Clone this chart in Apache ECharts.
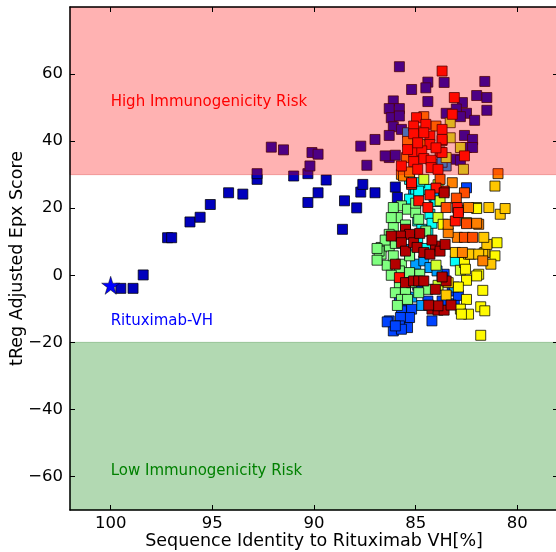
<!DOCTYPE html>
<html><head><meta charset="utf-8">
<script src="https://cdn.jsdelivr.net/npm/echarts@6/dist/echarts.min.js"></script>
<style>html,body{margin:0;padding:0;background:#fff}#c{width:556px;height:552px}</style>
</head><body><div id="c"></div>
<script>
// ---- data ----
const xTicks = [100, 95, 90, 85, 80];
const yTicks = [-60, -40, -20, 0, 20, 40, 60];
const highRisk = [30, 80];
const lowRisk = [-70, -20];
const rituximab = [[100, -3]];
const annotations = [
  ['High Immunogenicity Risk', 100, 51.5],
  ['Rituximab-VH', 100, -13.6],
  ['Low Immunogenicity Risk', 100, -58.5]
];
// colour value (jet colormap position) of each group
const navyVal = 0.06, blueVal = 0.19, lightBlueVal = 0.28, cyanVal = 0.38, greenVal = 0.5,
      yellowGreenVal = 0.58, yellowVal = 0.63, goldVal = 0.68, orangeVal = 0.75,
      orangeRedVal = 0.8, redVal = 0.86, darkRedVal = 0.95;

const navyPts = [[99.5,-3.9],[98.9,-3.9],[98.4,0.1],[97.2,11.2],[97.0,11.2],[96.1,15.9],[95.6,17.3],[95.1,21.1],[94.2,24.6],[93.5,24.2],[92.8,28.6],[92.8,30.3],[92.1,38.2],[91.5,37.4],[91.0,29.6],[90.3,30.3],[90.3,21.7],[90.2,32.6],[90.1,36.6],[89.8,36.1],[89.8,24.6],[89.4,28.4],[88.6,13.7],[88.5,22.2],[87.9,20.1],[87.7,38.5],[87.7,24.8],[87.6,27.1],[87.4,32.8],[87.0,24.6],[86.0,26.3],[85.9,23.2],
[85.8,62.2],[84.4,57.6],[84.5,55.9],[83.6,57.5],[81.6,57.8],[85.2,55.4],[84.4,51.8],[82.0,53.6],[81.5,53.0],[81.5,49.2],[82.7,51.5],[86.1,52.0],[86.3,49.7],[85.8,49.7],[82.5,48.3],[82.1,46.2],[83.0,49.6],[82.8,47.3],[83.5,48.3],[86.2,47.0],[86.1,44.3],[86.3,41.7],[87.0,40.5],[86.3,35.1],[86.0,35.8],[82.6,41.7],[82.2,40.5],[82.5,38.1],[82.2,38.1],[83.0,34.6],[82.8,34.3],[85.7,43.5],[85.8,47.5],[86.5,35.6]];
const bluePts = [[85.8,-7.7],[85.5,-9.2],[85.2,-10.1],[85.7,-10.6],[85.3,-12.6],[85.75,-12.6],[85.4,-15.6],[85.8,-15.1],[86.3,-13.6],[86.1,-16.6],[85.7,-16.1],[84.2,-13.6],[86.4,-13.9],[86.0,-15.1],[82.5,26.1],[83.6,0.3],[83.2,-4.7],[84.4,-7.7],[83.7,-7.7],[85.5,-4.0],[84.9,-3.0],[83.1,-8.5],[82.9,-6.0]];
const lightBluePts = [[85.5,7.7],[85.0,3.3],[84.6,4.3],[84.3,2.3],[83.95,1.3],[83.7,-0.7],[85.2,-6.5],[84.7,-9.0],[83.1,-3.5],[85.4,42.5],[83.9,33.1],[83.5,32.6],[83.7,33.7],[85.1,24.0],[84.1,23.5]];
const cyanPts = [[85.0,25.1],[84.4,25.6],[84.8,27.6],[85.3,22.7],[84.9,16.2],[84.7,13.7],[84.3,18.2],[83.05,4.3],[84.0,22.0],[84.4,13.2],[84.9,10.7],[85.3,6.3],[85.3,28.6],[84.85,25.1],[84.5,8.0],[84.2,15.5]];
const greenPts = [[85.7,20.7],[86.1,20.2],[85.4,19.7],[85.9,17.2],[86.2,17.2],[85.0,18.7],[84.85,16.7],[84.5,13.2],[86.1,14.2],[86.3,12.2],[86.7,8.3],[86.7,6.3],[86.3,8.7],[86.4,3.0],[86.1,5.8],[85.7,3.3],[85.3,5.8],[85.8,1.3],[85.3,0.8],[85.8,-3.2],[85.5,-4.7],[86.0,-5.2],[85.7,-7.2],[85.4,-7.2],[85.2,-2.2],[84.8,0.3],[84.4,-4.2],[84.85,-5.2],[86.8,7.2],[86.5,10.5],[86.0,9.5],[85.0,21.5],[85.5,15.0],[86.2,0.0],[86.9,4.5],[86.9,8.0],[85.9,-9.0]];
const yellowGreenPts = [[83.3,45.5],[83.3,41.0],[83.5,35.1],[82.8,38.1],[82.65,31.6],[84.6,28.6],[83.9,27.0],[83.8,22.2],[83.9,17.2],[84.0,3.0],[83.9,-3.0],[82.8,1.5]];
const yellowPts = [[82.0,20.2],[81.0,9.7],[81.1,5.8],[81.9,0.3],[82.5,-1.5],[81.7,-4.5],[82.5,-7.2],[81.8,-9.4],[81.6,-10.6],[82.8,-10.1],[82.4,-11.6],[82.75,-11.6],[81.8,-17.9],[82.6,3.8],[82.55,1.8],[82.0,-0.2],[82.5,15.7],[83.65,15.2],[82.9,-3.5],[82.0,19.9]];
const goldPts = [[81.1,26.6],[81.4,20.2],[80.84,18.2],[80.6,19.9],[81.6,6.8],[81.3,3.3],[83.05,6.8],[82.4,6.3],[82.3,6.3],[81.7,6.3],[81.5,9.2],[81.65,11.3],[83.5,-5.9],[83.4,-2.2],[81.9,6.3]];
const orangePts = [[80.95,30.3],[82.4,20.2],[81.9,15.2],[82.95,11.3],[82.9,19.4],[83.4,12.7],[83.4,15.2],[82.7,6.8],[81.7,4.3],[83.2,27.6],[82.0,15.5],[85.7,30.1],[85.6,29.6],[85.4,39.9],[85.45,35.1],[84.7,39.0],[84.6,47.3],[84.0,44.5],[84.9,43.0],[85.3,30.8]];
const orangeRedPts = [[82.6,24.6],[83.8,28.6],[83.5,20.2],[82.5,15.4],[82.6,11.3],[82.2,11.3],[83.0,23.0]];
const redPts = [[85.2,27.1],[84.85,22.2],[84.4,20.2],[83.6,25.1],[82.95,20.2],[83.05,16.2],[82.9,18.7],[85.2,27.6],[84.0,26.0],[84.3,24.0],
[84.96,47.0],[84.5,45.0],[85.1,44.5],[85.1,42.2],[84.3,41.5],[83.7,43.5],[83.7,40.2],[84.3,39.0],[85.1,36.8],[84.7,37.1],[83.8,36.8],[85.1,33.9],[84.6,34.8],[84.24,34.3],[84.24,32.1],[85.7,32.6],[84.9,31.6],[83.9,31.6],[83.7,60.9],[83.1,53.0],[83.2,48.0],[82.6,35.6],[83.7,40.5],[83.7,36.6],[84.6,42.5],[84.0,38.0],[84.9,39.5],[85.4,37.5],[85.8,-0.7]];
const darkRedPts = [[85.5,13.7],[85.3,12.2],[85.75,11.7],[86.2,11.7],[85.7,9.7],[85.5,7.2],[85.1,9.7],[84.93,8.3],[84.6,6.8],[84.03,8.7],[84.3,6.3],[83.8,7.2],[86.0,3.3],[85.5,-2.2],[85.1,-1.7],[84.85,-1.7],[84.6,-1.7],[84.03,-4.2],[83.5,-1.7],[84.2,-10.1],[83.9,-10.4],[83.6,-10.4],[83.55,9.2],[83.7,-0.5],[83.9,-9.1],[84.36,-8.9],[83.26,-8.9],[83.6,24.6],[84.8,12.5],[84.2,10.5]];

const groups = [
  [navyPts, navyVal], [bluePts, blueVal], [lightBluePts, lightBlueVal], [cyanPts, cyanVal],
  [greenPts, greenVal], [yellowGreenPts, yellowGreenVal], [yellowPts, yellowVal], [goldPts, goldVal],
  [orangePts, orangeVal], [orangeRedPts, orangeRedVal], [redPts, redVal], [darkRedPts, darkRedVal]
];
const pointData = [];
groups.forEach(([pts, v]) => pts.forEach(p => pointData.push([p[0], p[1], v])));

const FONT = 'DejaVu Sans';
const fmt = v => String(v).replace('-', '\u2212');
const starPath = 'path://M50,0 L61.8,35.4 L100,35.4 L69.1,57.3 L80.9,92.7 L50,70.8 L19.1,92.7 L30.9,57.3 L0,35.4 L38.2,35.4 Z';

const axisLine = {show: true, onZero: false, lineStyle: {color: '#000', width: 1.5}};
const tickStyle = {lineStyle: {color: '#000', width: 1}};

const chart = echarts.init(document.getElementById('c'), null, {renderer: 'canvas'});
chart.setOption({
  animation: false,
  backgroundColor: '#fff',
  grid: {left: 70, top: 7, right: -2, bottom: 42, containLabel: false, outerBoundsMode: 'none'},
  xAxis: [{
    type: 'value', min: 78, max: 102, inverse: true, position: 'bottom', z: 10,
    name: 'Sequence Identity to Rituximab VH[%]', nameLocation: 'middle', nameGap: 22, nameMoveOverlap: false,
    nameTextStyle: {fontFamily: FONT, fontSize: 17.5, color: '#000'},
    axisLine: axisLine,
    axisTick: {show: true, inside: true, length: 5, customValues: xTicks, ...tickStyle},
    axisLabel: {customValues: xTicks, formatter: fmt, fontFamily: FONT, fontSize: 16.5, color: '#000', margin: 5},
    splitLine: {show: false}
  }, {
    type: 'value', min: 78, max: 102, inverse: true, position: 'top', z: 10,
    axisLine: axisLine,
    axisTick: {show: true, inside: true, length: 5, customValues: xTicks, ...tickStyle},
    axisLabel: {show: false}, splitLine: {show: false}
  }],
  yAxis: [{
    type: 'value', min: -70, max: 80, position: 'left', z: 10,
    name: 'tReg Adjusted Epx Score', nameLocation: 'middle', nameGap: 44, nameRotate: 90, nameMoveOverlap: false,
    nameTextStyle: {fontFamily: FONT, fontSize: 17.5, color: '#000'},
    axisLine: axisLine,
    axisTick: {show: true, inside: true, length: 5, customValues: yTicks, ...tickStyle},
    axisLabel: {customValues: yTicks, formatter: fmt, fontFamily: FONT, fontSize: 16.5, color: '#000', margin: 7},
    splitLine: {show: false}
  }, {
    type: 'value', min: -70, max: 80, position: 'right', z: 10,
    axisLine: axisLine,
    axisTick: {show: true, inside: true, length: 5, customValues: yTicks, ...tickStyle},
    axisLabel: {show: false}, splitLine: {show: false}
  }],
  visualMap: {
    show: false, type: 'continuous', seriesIndex: 0, dimension: 2, min: 0, max: 1,
    inRange: {color: ['#000080','#0000ff','#0080ff','#00ffff','#80ff80','#ffff00','#ff8000','#ff0000','#800000']}
  },
  series: [{
    type: 'scatter', name: 'variants', z: 2,
    symbol: 'rect', symbolSize: 10,
    itemStyle: {borderColor: 'rgba(0,0,0,0.75)', borderWidth: 1, opacity: 1},
    data: pointData
  }, {
    type: 'scatter', name: 'Rituximab', z: 3,
    symbol: starPath, symbolSize: 18,
    itemStyle: {color: '#0000ff', borderColor: 'rgba(0,0,0,0.6)', borderWidth: 0.8, opacity: 1},
    data: rituximab
  }, {
    type: 'scatter', name: 'bands', z: 5, silent: true, data: [],
    markArea: {
      silent: true, z: 5,
      data: [
        [{yAxis: highRisk[0], itemStyle: {color: 'rgba(255,0,0,0.3)', borderColor: 'rgba(200,0,0,0.25)', borderWidth: 1}}, {yAxis: highRisk[1]}],
        [{yAxis: lowRisk[0], itemStyle: {color: 'rgba(0,128,0,0.3)', borderColor: 'rgba(0,100,0,0.25)', borderWidth: 1}}, {yAxis: lowRisk[1]}]
      ]
    }
  }, {
    type: 'scatter', name: 'labels', z: 6, silent: true, symbolSize: 0,
    itemStyle: {opacity: 1},
    data: annotations.map((a, i) => ({
      value: [a[1], a[2]],
      label: {
        show: true, position: [0, 0], align: 'left', verticalAlign: 'middle',
        formatter: a[0], fontFamily: FONT, fontSize: 15,
        color: ['#ff0000', '#0000ff', '#008000'][i]
      }
    }))
  }]
});
</script>
</body></html>
